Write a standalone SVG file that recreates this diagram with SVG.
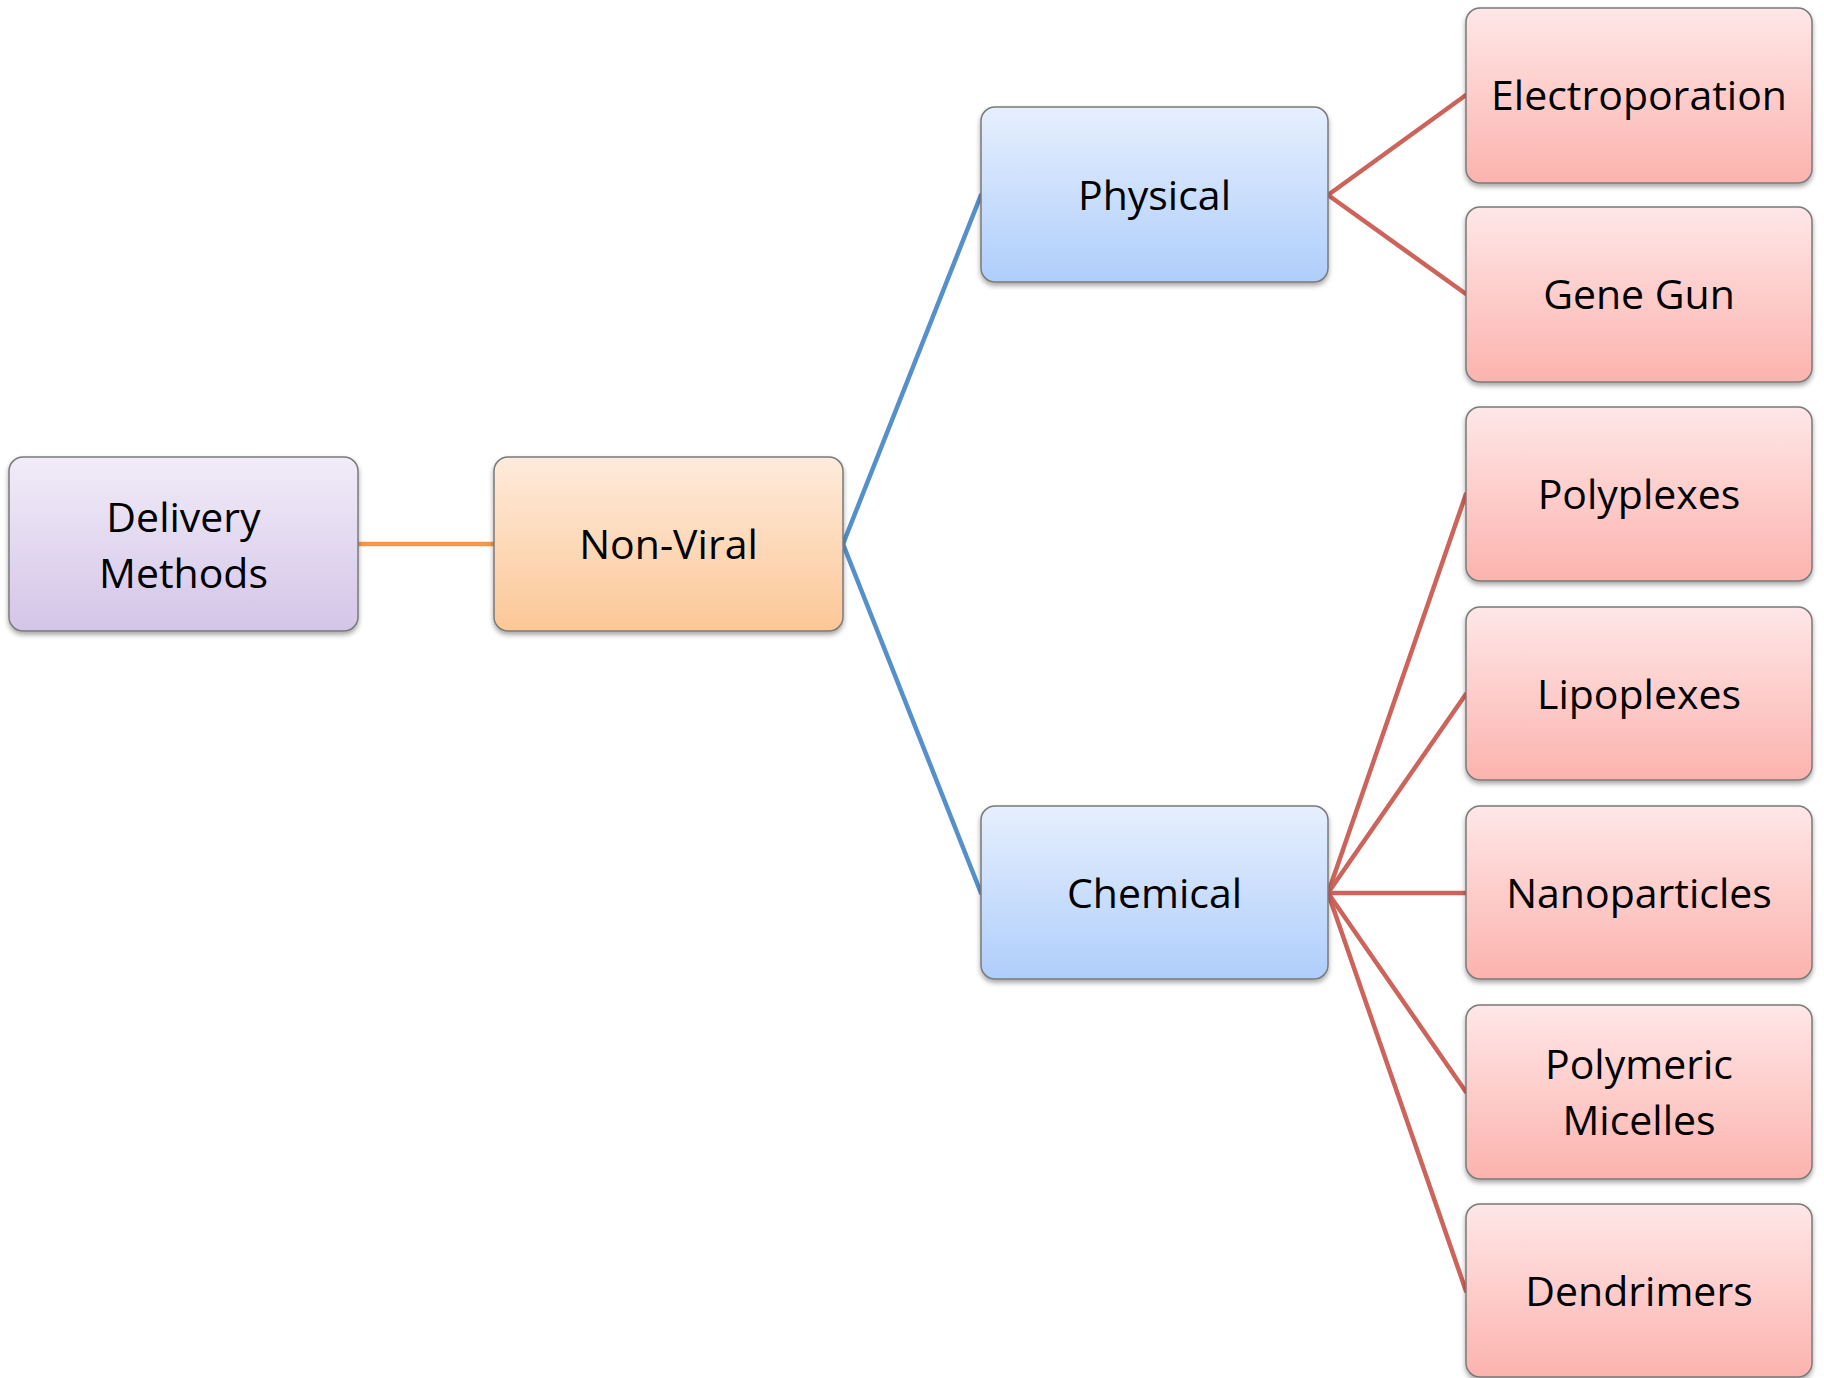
<svg xmlns="http://www.w3.org/2000/svg" width="1824" height="1378" viewBox="0 0 1824 1378">
<style>
.box{stroke:#7a7a7a;stroke-width:1.5;filter:url(#sh)}
.lbl{font-family:"Open Sans","Liberation Sans",sans-serif;font-size:41px;fill:#000;text-anchor:middle}
.c{fill:none;stroke-width:4.5;stroke-linecap:round}
</style>
<defs>
<filter id="sh" x="-10%" y="-10%" width="120%" height="130%">
<feDropShadow dx="0" dy="3" stdDeviation="2.5" flood-color="#000" flood-opacity="0.35"/>
</filter>
<linearGradient id="gp" x1="0" y1="0" x2="0" y2="1"><stop offset="0" stop-color="#f1ecf8"/><stop offset="1" stop-color="#d4c5e8"/></linearGradient>
<linearGradient id="go" x1="0" y1="0" x2="0" y2="1"><stop offset="0" stop-color="#feebdc"/><stop offset="1" stop-color="#fcc796"/></linearGradient>
<linearGradient id="gb" x1="0" y1="0" x2="0" y2="1"><stop offset="0" stop-color="#e6effd"/><stop offset="1" stop-color="#afcefb"/></linearGradient>
<linearGradient id="gr" x1="0" y1="0" x2="0" y2="1"><stop offset="0" stop-color="#fee7e7"/><stop offset="1" stop-color="#fcb3ae"/></linearGradient>
</defs>
<g id="connectors">
<line class="c" stroke="#f79646" x1="358" y1="544" x2="494" y2="544"/>
<line class="c" stroke="#5590cb" x1="843" y1="544" x2="981" y2="195"/>
<line class="c" stroke="#5590cb" x1="843" y1="544" x2="981" y2="893"/>
<line class="c" stroke="#cd645b" x1="1328" y1="195" x2="1466" y2="95"/>
<line class="c" stroke="#cd645b" x1="1328" y1="195" x2="1466" y2="294"/>
<line class="c" stroke="#cd645b" x1="1328" y1="893" x2="1466" y2="494"/>
<line class="c" stroke="#cd645b" x1="1328" y1="893" x2="1466" y2="694"/>
<line class="c" stroke="#cd645b" x1="1328" y1="893" x2="1466" y2="893"/>
<line class="c" stroke="#cd645b" x1="1328" y1="893" x2="1466" y2="1092"/>
<line class="c" stroke="#cd645b" x1="1328" y1="893" x2="1466" y2="1291"/>
</g>
<g id="delivery"><rect class="box" x="9" y="457" width="349" height="174" rx="14" fill="url(#gp)"/><text class="lbl" x="183.5" y="532">Delivery</text><text class="lbl" x="183.5" y="588">Methods</text></g>
<g id="nonviral"><rect class="box" x="494" y="457" width="349" height="174" rx="14" fill="url(#go)"/><text class="lbl" x="668.5" y="559">Non-Viral</text></g>
<g id="physical"><rect class="box" x="981" y="107" width="347" height="175" rx="14" fill="url(#gb)"/><text class="lbl" x="1154.5" y="210">Physical</text></g>
<g id="chemical"><rect class="box" x="981" y="806" width="347" height="173" rx="14" fill="url(#gb)"/><text class="lbl" x="1154.5" y="908">Chemical</text></g>
<g id="electroporation"><rect class="box" x="1466" y="8" width="346" height="175" rx="14" fill="url(#gr)"/><text class="lbl" x="1639" y="110">Electroporation</text></g>
<g id="genegun"><rect class="box" x="1466" y="207" width="346" height="175" rx="14" fill="url(#gr)"/><text class="lbl" x="1639" y="309">Gene Gun</text></g>
<g id="polyplexes"><rect class="box" x="1466" y="407" width="346" height="174" rx="14" fill="url(#gr)"/><text class="lbl" x="1639" y="509">Polyplexes</text></g>
<g id="lipoplexes"><rect class="box" x="1466" y="607" width="346" height="173" rx="14" fill="url(#gr)"/><text class="lbl" x="1639" y="709">Lipoplexes</text></g>
<g id="nanoparticles"><rect class="box" x="1466" y="806" width="346" height="173" rx="14" fill="url(#gr)"/><text class="lbl" x="1639" y="908">Nanoparticles</text></g>
<g id="micelles"><rect class="box" x="1466" y="1005" width="346" height="174" rx="14" fill="url(#gr)"/><text class="lbl" x="1639" y="1079">Polymeric</text><text class="lbl" x="1639" y="1135">Micelles</text></g>
<g id="dendrimers"><rect class="box" x="1466" y="1204" width="346" height="173" rx="14" fill="url(#gr)"/><text class="lbl" x="1639" y="1306">Dendrimers</text></g>
</svg>
